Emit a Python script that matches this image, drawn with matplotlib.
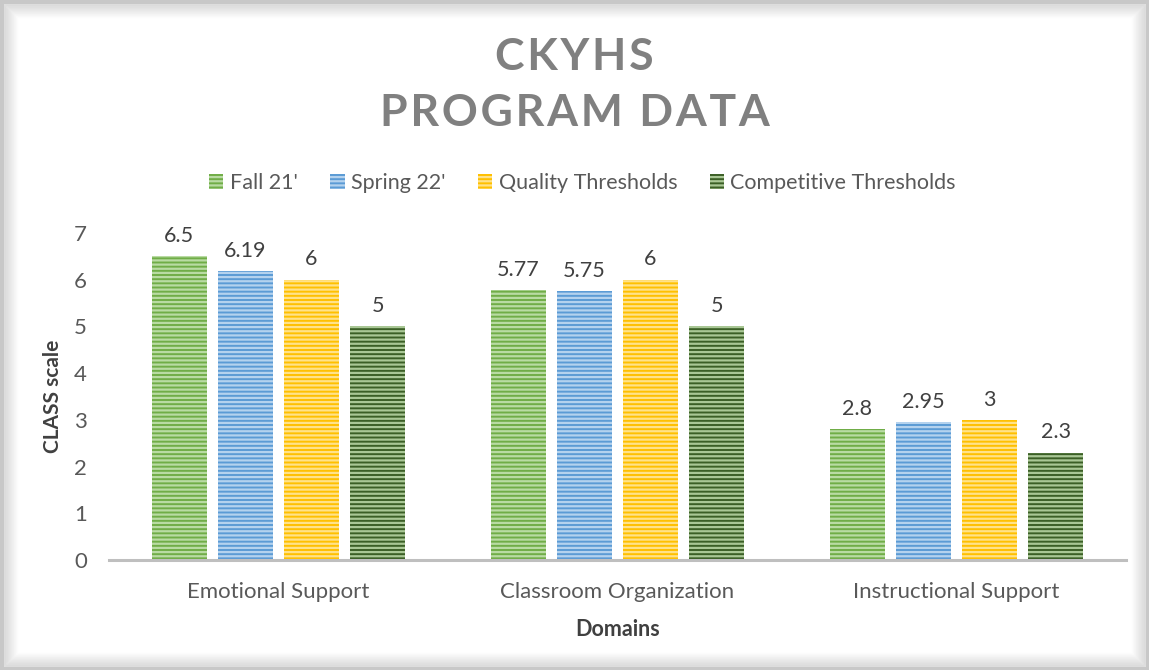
import matplotlib
matplotlib.use("Agg")
import matplotlib.pyplot as plt
from matplotlib.patches import Rectangle, Patch
import numpy as np

plt.rcParams['font.family'] = ['Lato', 'DejaVu Sans']
plt.rcParams['hatch.linewidth'] = 1.6

categories = ["Emotional Support", "Classroom Organization", "Instructional Support"]
series_names = ["Fall 21'", "Spring 22'", "Quality Thresholds", "Competitive Thresholds"]
fall21 = [6.5, 5.77, 2.8]
spring22 = [6.19, 5.75, 2.95]
quality = [6, 6, 3]
competitive = [5, 5, 2.3]
labels = [["6.5", "5.77", "2.8"], ["6.19", "5.75", "2.95"], ["6", "6", "3"], ["5", "5", "2.3"]]

series = [fall21, spring22, quality, competitive]
face = ["#70AD47", "#5B9BD5", "#FFC000", "#3B5F26"]
stripe = ["#B9DBA3", "#B4D2EE", "#FFE28A", "#A9C795"]

fig = plt.figure(figsize=(11.49, 6.70), dpi=100)
ax = fig.add_axes([109/1149, 1-560/670, (1126-109)/1149, (560-233)/670])

x = np.arange(len(categories))
pitch = 0.195
width = 0.162
for i, vals in enumerate(series):
    pos = x + (i - 1.5) * pitch
    ax.bar(pos, vals, width, color=face[i], edgecolor=stripe[i], linewidth=0,
           hatch='----', zorder=2)
    for p, v, lab in zip(pos, vals, labels[i]):
        ax.text(p, v + 0.22, lab, ha='center', va='bottom', fontsize=15.5, color='#404040')

ax.set_xlim(-0.5, 2.5)
ax.set_ylim(0, 7)
ax.set_yticks(range(0, 8))
ax.set_xticks(x)
ax.set_xticklabels(categories)
ax.tick_params(axis='both', length=0, labelsize=16, labelcolor='#595959')
ax.tick_params(axis='x', pad=16)
ax.tick_params(axis='y', pad=16)
for s in ['top', 'right', 'left']:
    ax.spines[s].set_visible(False)
ax.spines['bottom'].set_color('#BFBFBF')
ax.spines['bottom'].set_linewidth(2.2)
ax.set_xlabel("Domains", fontsize=15.5, fontweight='bold', color='#404040', labelpad=12)
ax.set_ylabel("CLASS scale", fontsize=15, fontweight='bold', color='#404040', labelpad=8)

hs = "\u200a"
fig.text(0.5, 1-57/670, hs.join("CKYHS"), ha='center', va='center', fontsize=32,
         fontweight='bold', color='#808080')
fig.text(0.5, 1-113/670, hs.join("PROGRAM") + hs + " " + hs + hs.join("DATA"),
         ha='center', va='center', fontsize=32, fontweight='bold', color='#808080')

handles = [Patch(facecolor=face[i], edgecolor=stripe[i], linewidth=0, hatch='----')
           for i in range(4)]
fig.legend(handles, series_names, loc='center', bbox_to_anchor=(0.5 + 8/1149, 1-183/670), ncol=4,
           frameon=False, fontsize=15.5, labelcolor='#595959', handlelength=0.67,
           handleheight=0.67, handletextpad=0.3, columnspacing=1.5)

# frame with shadow
for k in range(14):
    a = 0.22 * (1 - k / 14)
    fig.patches.append(Rectangle((4 + k, 4 + k), 1149 - 8 - 2 * k, 670 - 8 - 2 * k,
                                 transform=None, fill=False, edgecolor=(0.5, 0.5, 0.5, a),
                                 linewidth=1.0))
fig.patches.append(Rectangle((1.5, 1.5), 1146, 667, transform=None, fill=False,
                             edgecolor='#C8C8C8', linewidth=3))

fig.savefig("out.png", dpi=100)
